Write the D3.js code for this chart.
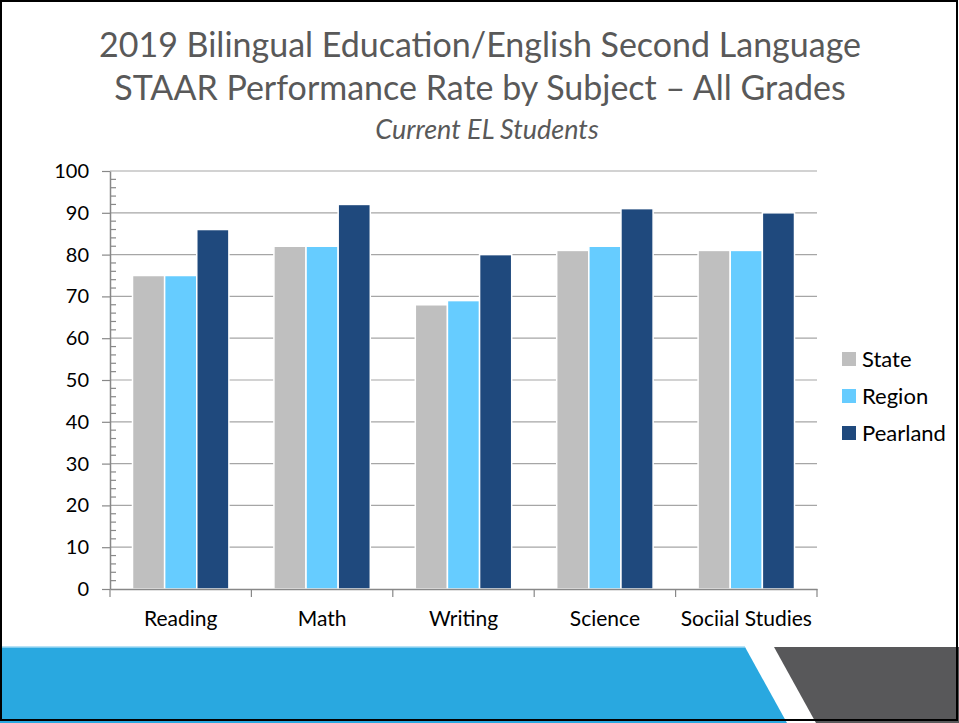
<!DOCTYPE html>
<html>
<head>
<meta charset="utf-8">
<script src="https://cdn.jsdelivr.net/npm/d3@7"></script>
<style>
  body { margin: 0; background: #fff; }
  text { font-family: Lato, "Open Sans", sans-serif; }
</style>
</head>
<body>
<div id="chart"></div>
<script>
let subjects = ["Reading", "Math", "Writing", "Science", "Sociial Studies"];
let groups = ["State", "Region", "Pearland"];
let stateVals = [75, 82, 68, 81, 81];
let regionVals = [75, 82, 69, 82, 81];
let pearlandVals = [86, 92, 80, 91, 90];
let yTicks = [0, 10, 20, 30, 40, 50, 60, 70, 80, 90, 100];
let colors = ["#bfbfbf", "#66ccff", "#1f497d"];

let W = 959, H = 723;
let margin = { top: 171, left: 110, right: 142, bottom: 134 };
let width = 817 - margin.left,
    height = 589 - margin.top;

let svg = d3.select("#chart").append("svg")
    .attr("width", W)
    .attr("height", H);

// bottom banner
svg.append("polygon")
    .attr("points", "0,647 745,647 787,723 0,723")
    .attr("fill", "#29a8e0");
svg.append("line")
    .attr("x1", 0).attr("x2", 745).attr("y1", 647).attr("y2", 647)
    .attr("stroke", "#9fd9f3").attr("stroke-width", 1.5);
svg.append("polygon")
    .attr("points", "774,647 959,647 959,723 816,723")
    .attr("fill", "#58585a");

// frame
svg.append("rect")
    .attr("x", 1).attr("y", 1)
    .attr("width", W - 3).attr("height", H - 4)
    .attr("fill", "none")
    .attr("stroke", "#000")
    .attr("stroke-width", 2);

// title
svg.append("text")
    .attr("x", 480).attr("y", 57)
    .attr("text-anchor", "middle")
    .style("font-size", "34px")
    .attr("fill", "#595959")
    .text("2019 Bilingual Education/English Second Language");
svg.append("text")
    .attr("x", 480).attr("y", 100)
    .attr("text-anchor", "middle")
    .style("font-size", "34px")
    .attr("fill", "#595959")
    .text("STAAR Performance Rate by Subject \u2013 All Grades");
svg.append("text")
    .attr("x", 487).attr("y", 139)
    .attr("text-anchor", "middle")
    .style("font-size", "27px")
    .style("font-style", "italic")
    .attr("fill", "#595959")
    .text("Current EL Students");

let g = svg.append("g")
    .attr("transform", "translate(" + margin.left + "," + margin.top + ")");

let x0 = d3.scaleBand()
    .domain(subjects)
    .range([0, width])
    .paddingInner(0)
    .paddingOuter(0);

let x1 = d3.scaleBand()
    .domain(groups)
    .range([22.5, x0.bandwidth() - 22.5]);

let y = d3.scaleLinear()
    .domain([0, 100])
    .range([height, 0]);

// gridlines
g.selectAll(".grid")
    .data(yTicks.slice(1))
    .enter()
    .append("line")
    .attr("class", "grid")
    .attr("x1", 0).attr("x2", width)
    .attr("y1", function (d) { return y(d); })
    .attr("y2", function (d) { return y(d); })
    .attr("stroke", "#a6a6a6")
    .attr("stroke-width", 1.2);

// bars
let series = [stateVals, regionVals, pearlandVals];
let barData = [];
subjects.forEach(function (s, i) {
    groups.forEach(function (gr, j) {
        barData.push({ subject: s, group: gr, value: series[j][i], color: colors[j] });
    });
});

g.selectAll(".bar")
    .data(barData)
    .enter()
    .append("rect")
    .attr("class", "bar")
    .attr("x", function (d) { return x0(d.subject) + x1(d.group); })
    .attr("width", x1.bandwidth())
    .attr("y", function (d) { return y(d.value); })
    .attr("height", function (d) { return height - y(d.value); })
    .attr("fill", function (d) { return d.color; })
    .attr("stroke", "#fff")
    .attr("stroke-width", 1.5);

// minor ticks on y axis
let minor = d3.range(0, 101, 2).filter(function (v) { return v % 10 !== 0; });
g.selectAll(".minor")
    .data(minor)
    .enter()
    .append("line")
    .attr("x1", 0).attr("x2", 6)
    .attr("y1", function (d) { return y(d); })
    .attr("y2", function (d) { return y(d); })
    .attr("stroke", "#888")
    .attr("stroke-width", 1.2);

// y axis
let yAxis = g.append("g")
    .call(d3.axisLeft(y).tickValues(yTicks).tickSize(8).tickPadding(13).tickSizeOuter(0));
yAxis.select(".domain").attr("stroke", "#888").attr("stroke-width", 1.5);
yAxis.selectAll(".tick line").attr("stroke", "#888").attr("stroke-width", 1.2);
yAxis.selectAll(".tick text")
    .style("font-size", "20px")
    .style("font-family", "Lato, sans-serif")
    .attr("fill", "#000");

// x axis
let xAxis = g.append("g")
    .attr("transform", "translate(0," + height + ")")
    .call(d3.axisBottom(x0).tickSize(0).tickPadding(22));
xAxis.select(".domain").attr("stroke", "#888").attr("stroke-width", 1.5);
xAxis.selectAll(".tick text")
    .style("font-size", "21px")
    .style("font-family", "Lato, sans-serif")
    .attr("fill", "#000");

let sep = subjects.map(function (s) { return x0(s); }).concat([width]);
xAxis.selectAll(".sep")
    .data(sep)
    .enter()
    .append("line")
    .attr("x1", function (d) { return d; })
    .attr("x2", function (d) { return d; })
    .attr("y1", 0).attr("y2", 8)
    .attr("stroke", "#888")
    .attr("stroke-width", 1.2);

// legend
let legend = svg.append("g")
    .attr("transform", "translate(842,352)");
let item = legend.selectAll(".item")
    .data(groups)
    .enter()
    .append("g")
    .attr("transform", function (d, i) { return "translate(0," + (i * 37) + ")"; });
item.append("rect")
    .attr("width", 14).attr("height", 14)
    .attr("fill", function (d, i) { return colors[i]; });
item.append("text")
    .attr("x", 20).attr("y", 15)
    .style("font-size", "22px")
    .attr("fill", "#000")
    .text(function (d) { return d; });
</script>
</body>
</html>
